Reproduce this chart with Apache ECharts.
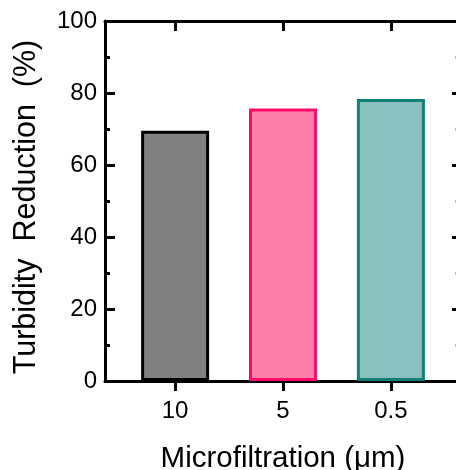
<!DOCTYPE html>
<html>
<head>
<meta charset="utf-8">
<script src="https://cdn.jsdelivr.net/npm/echarts@6/dist/echarts.min.js"></script>
<style>
  html, body { margin: 0; padding: 0; background: #fff; }
  #chart { width: 456px; height: 470px; }
</style>
</head>
<body>
<div id="chart"></div>
<script>
  // 数据
  var categories = ['10', '5', '0.5'];
  var positions = [1, 2, 3];
  var reduction = [69.5, 75.7, 78.3];
  var fillColors = ['#808080', '#ff7fab', '#87c0bd'];
  var borderColors = ['#000000', '#ff0a6a', '#127f79'];
  var yTicks = [0, 20, 40, 60, 80, 100];

  var chart = echarts.init(document.getElementById('chart'));

  var barData = [];
  for (var i = 0; i < categories.length; i++) {
    barData.push({
      value: [positions[i], reduction[i]],
      itemStyle: { color: fillColors[i], borderColor: borderColors[i], borderWidth: 3 }
    });
  }

  var font = 'Liberation Sans, Arial, sans-serif';
  var lineStyle = { color: '#000', width: 3 };

  var option = {
    backgroundColor: '#fff',
    animation: false,
    grid: { left: 105, right: -5, top: 21, bottom: 89, containLabel: false, outerBoundsMode: 'none' },
    xAxis: [
      {
        type: 'value',
        position: 'bottom',
        min: 0.35,
        max: 3.65,
        name: 'Microfiltration (\u03bcm)',
        nameLocation: 'middle',
        nameGap: 63,
        nameTextStyle: { fontFamily: font, fontSize: 29.5, color: '#000' },
        axisLine: { show: true, onZero: false, lineStyle: lineStyle },
        axisTick: { show: true, inside: false, length: 10, lineStyle: lineStyle, customValues: positions },
        axisLabel: {
          show: true, margin: 18, fontFamily: font, fontSize: 24, color: '#000',
          customValues: positions,
          formatter: function (v) { return categories[Math.round(v) - 1] || ''; }
        },
        splitLine: { show: false }
      },
      {
        // 顶部边框，刻度朝内
        type: 'value',
        position: 'top',
        min: 0.35,
        max: 3.65,
        axisLine: { show: true, onZero: false, lineStyle: lineStyle },
        axisTick: { show: true, inside: true, length: 10, lineStyle: lineStyle, customValues: positions },
        axisLabel: { show: false },
        splitLine: { show: false }
      }
    ],
    yAxis: [
      {
        type: 'value',
        position: 'left',
        min: 0,
        max: 100,
        interval: 20,
        name: 'Turbidity  Reduction  (%)',
        nameLocation: 'middle',
        nameGap: 63,
        nameTextStyle: { fontFamily: font, fontSize: 30.5, color: '#000', padding: [0, 12, 0, 0] },
        axisLine: { show: true, onZero: false, lineStyle: lineStyle },
        axisTick: { show: true, inside: true, length: 10, lineStyle: lineStyle },
        minorTick: { show: true, splitNumber: 2, length: 5, lineStyle: lineStyle },
        axisLabel: {
          margin: 8, fontFamily: font, fontSize: 24, color: '#000',
          formatter: function (v) { return yTicks.indexOf(v) >= 0 ? String(v) : ''; }
        },
        splitLine: { show: false }
      },
      {
        // 右侧边框（画面外），只露出刻度
        type: 'value',
        position: 'right',
        offset: -4,
        min: 0,
        max: 100,
        interval: 20,
        axisLine: { show: false, onZero: false, lineStyle: lineStyle },
        axisTick: { show: true, inside: true, length: 5, lineStyle: lineStyle },
        minorTick: { show: true, splitNumber: 2, length: 2, lineStyle: { color: '#bbb', width: 3 } },
        axisLabel: { show: false },
        splitLine: { show: false }
      }
    ],
    series: [{
      type: 'bar',
      xAxisIndex: 0,
      yAxisIndex: 0,
      barWidth: 68,
      data: barData
    }]
  };

  chart.setOption(option);
</script>
</body>
</html>
